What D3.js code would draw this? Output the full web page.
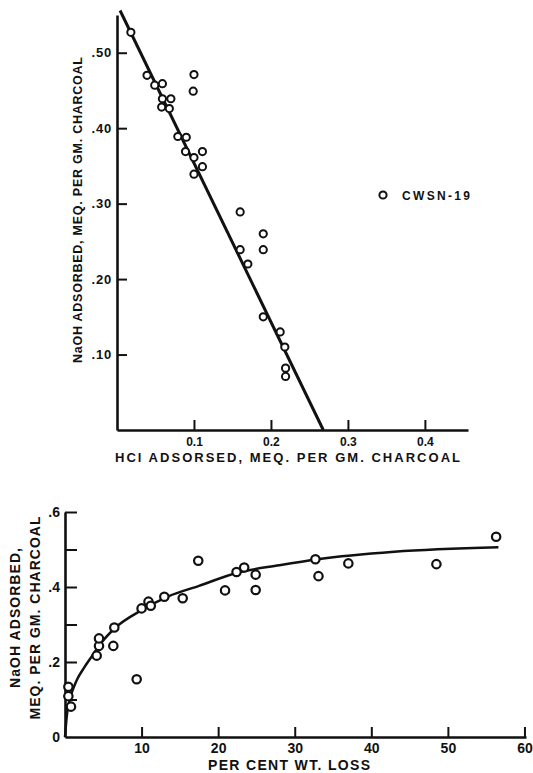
<!DOCTYPE html>
<html>
<head>
<meta charset="utf-8">
<script src="https://cdn.jsdelivr.net/npm/d3@7"></script>
<style>
  html, body { margin: 0; padding: 0; background: #fff; }
  svg { display: block; }
  text { font-family: "Liberation Sans", Arial, sans-serif; font-weight: bold; fill: #111; }
</style>
</head>
<body>
<svg id="chart" width="533" height="773"></svg>
<script>
// Upper panel: NaOH vs HCl adsorbed (sample CWSN-19)
const hclAdsorbed = [0.018,0.039,0.049,0.059,0.059,0.070,0.058,0.068,0.100,0.099,0.079,0.090,0.089,0.100,0.111,0.111,0.100,0.160,0.160,0.170,0.190,0.190,0.190,0.212,0.218,0.219,0.219];
const naohVsHcl   = [0.527,0.470,0.457,0.459,0.439,0.439,0.428,0.426,0.471,0.449,0.389,0.388,0.369,0.361,0.369,0.349,0.339,0.289,0.239,0.220,0.260,0.239,0.150,0.130,0.110,0.082,0.071];
// fitted straight line (end points)
const fitLineHcl  = [0.004, 0.268];
const fitLineNaoh = [0.556, 0.0];
const topXTicks = [0.1, 0.2, 0.3, 0.4];
const topXLabels = ["0.1", "0.2", "0.3", "0.4"];
const topYTicks = [0.1, 0.2, 0.3, 0.4, 0.5];
const topYLabels = [".10", ".20", ".30", ".40", ".50"];
const legendLabel = "CWSN-19";

// Lower panel: NaOH adsorbed vs per cent weight loss
const wtLoss     = [0.44,0.44,0.78,4.14,4.44,4.44,6.31,6.44,9.36,10.0,10.9,11.2,12.97,15.37,20.9,24.9,17.4,22.4,23.4,24.9,32.7,33.1,37.0,48.5,56.3];
const naohVsLoss = [0.134,0.109,0.081,0.217,0.243,0.263,0.243,0.292,0.154,0.343,0.361,0.350,0.374,0.370,0.391,0.392,0.470,0.440,0.452,0.433,0.474,0.429,0.463,0.461,0.534];
// smooth trend curve, read point by point
const curveLoss = [0, 0.25, 0.7, 1.5, 2.5, 3.5, 4.5, 6.5, 10, 13.5, 17.5, 22.5, 28, 33, 43, 56.6];
const curveNaoh = [0, 0.06, 0.105, 0.15, 0.185, 0.215, 0.245, 0.29, 0.338, 0.375, 0.403, 0.438, 0.458, 0.474, 0.494, 0.506];
const botXTicks = [10, 20, 30, 40, 50, 60];
const botYTicks = [0, 0.1, 0.2, 0.3, 0.4, 0.5, 0.6];
const botYLabels = ["0", "", ".2", "", ".4", "", ".6"];

const svg = d3.select("#chart");

// ---------- upper panel ----------
const xT = d3.scaleLinear().domain([0, 0.456]).range([117, 468]);
const yT = d3.scaleLinear().domain([0, 0.55]).range([430, 15]);

const gT = svg.append("g");

const axTX = gT.append("g").attr("transform", `translate(0,${yT(0)})`)
  .call(d3.axisBottom(xT).tickValues(topXTicks)
    .tickFormat((d, i) => topXLabels[i]).tickSize(-10).tickSizeOuter(0).tickPadding(7));
const axTY = gT.append("g").attr("transform", `translate(${xT(0)},0)`)
  .call(d3.axisLeft(yT).tickValues(topYTicks)
    .tickFormat((d, i) => topYLabels[i]).tickSize(-10).tickSizeOuter(0).tickPadding(5));

[axTX, axTY].forEach(a => {
  a.select(".domain").attr("stroke", "#111").attr("stroke-width", 2.6);
  a.selectAll(".tick line").attr("stroke", "#111").attr("stroke-width", 2);
});
axTX.selectAll(".tick text").attr("font-size", 12).style("font-family", "Liberation Sans").style("font-weight", "bold").attr("fill", "#111");
axTY.selectAll(".tick text").attr("font-size", 13).style("font-family", "Liberation Sans").style("font-weight", "bold").attr("fill", "#111").attr("letter-spacing", 0.8);

// fitted line
gT.append("path")
  .datum(d3.zip(fitLineHcl, fitLineNaoh))
  .attr("d", d3.line().x(d => xT(d[0])).y(d => yT(d[1])))
  .attr("fill", "none").attr("stroke", "#111").attr("stroke-width", 3);

// data points
gT.selectAll("circle.pt")
  .data(d3.zip(hclAdsorbed, naohVsHcl))
  .join("circle").attr("class", "pt")
  .attr("cx", d => xT(d[0])).attr("cy", d => yT(d[1])).attr("r", 3.6)
  .attr("fill", "#fff").attr("stroke", "#111").attr("stroke-width", 2);

// legend
gT.append("circle").attr("cx", 383).attr("cy", 195).attr("r", 3.6)
  .attr("fill", "#fff").attr("stroke", "#111").attr("stroke-width", 2);
gT.append("text").attr("x", 402).attr("y", 199.5).attr("font-size", 12)
  .attr("textLength", 68).attr("lengthAdjust", "spacing").text(legendLabel);

// axis titles
gT.append("text").attr("x", 115).attr("y", 462).attr("font-size", 13)
  .attr("textLength", 345).attr("lengthAdjust", "spacing")
  .text("HCl ADSORSED, MEQ. PER GM. CHARCOAL");
gT.append("text").attr("transform", "translate(82,210) rotate(-90)")
  .attr("text-anchor", "middle").attr("font-size", 12.5)
  .attr("textLength", 306).attr("lengthAdjust", "spacing")
  .text("NaOH ADSORBED, MEQ. PER GM. CHARCOAL");

// ---------- lower panel ----------
const xB = d3.scaleLinear().domain([0, 60.2]).range([65, 526]);
const yB = d3.scaleLinear().domain([0, 0.6]).range([737, 512]);

const gB = svg.append("g");

const axBX = gB.append("g").attr("transform", `translate(0,${yB(0)})`)
  .call(d3.axisBottom(xB).tickValues(botXTicks).tickFormat(d3.format("d"))
    .tickSize(-10).tickSizeOuter(0).tickPadding(6));
const axBY = gB.append("g").attr("transform", `translate(${xB(0)},0)`)
  .call(d3.axisLeft(yB).tickValues(botYTicks)
    .tickFormat((d, i) => botYLabels[i]).tickSize(-12).tickSizeOuter(0).tickPadding(5));

[axBX, axBY].forEach(a => {
  a.select(".domain").attr("stroke", "#111").attr("stroke-width", 2.6);
  a.selectAll(".tick line").attr("stroke", "#111").attr("stroke-width", 2);
  a.selectAll(".tick text").attr("font-size", 14).style("font-family", "Liberation Sans").style("font-weight", "bold").attr("fill", "#111");
});
axBY.selectAll(".tick").filter(d => d === 0).select("line").remove();

// trend curve
gB.append("path")
  .datum(d3.zip(curveLoss, curveNaoh))
  .attr("d", d3.line().x(d => xB(d[0])).y(d => yB(d[1])).curve(d3.curveMonotoneX))
  .attr("fill", "none").attr("stroke", "#111").attr("stroke-width", 2.5);

// data points
gB.selectAll("circle.pt")
  .data(d3.zip(wtLoss, naohVsLoss))
  .join("circle").attr("class", "pt")
  .attr("cx", d => xB(d[0])).attr("cy", d => yB(d[1])).attr("r", 4.2)
  .attr("fill", "#fff").attr("stroke", "#111").attr("stroke-width", 2.2);

// axis titles
gB.append("text").attr("x", 208).attr("y", 770).attr("font-size", 14)
  .attr("textLength", 162).attr("lengthAdjust", "spacing")
  .text("PER CENT WT. LOSS");
gB.append("text").attr("transform", "translate(20,618) rotate(-90)")
  .attr("text-anchor", "middle").attr("font-size", 14)
  .attr("textLength", 140).attr("lengthAdjust", "spacing")
  .text("NaOH ADSORBED,");
gB.append("text").attr("transform", "translate(40,618) rotate(-90)")
  .attr("text-anchor", "middle").attr("font-size", 14)
  .attr("textLength", 203).attr("lengthAdjust", "spacing")
  .text("MEQ. PER GM. CHARCOAL");
</script>
</body>
</html>
